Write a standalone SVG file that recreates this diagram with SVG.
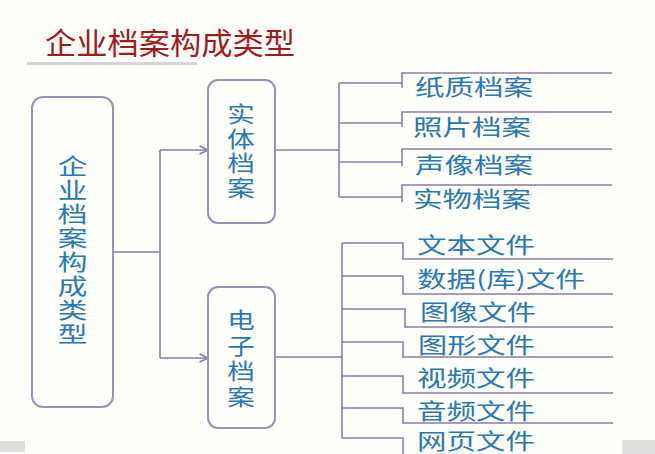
<svg xmlns="http://www.w3.org/2000/svg" width="655" height="454" viewBox="0 0 655 454">
<defs>
<style>
.bg{fill:#fefefb}
.box{fill:#fefefb;stroke:#9a90b8;stroke-width:2}
.ln{fill:none;stroke:#8a7cac;stroke-width:1.6}
.t{font-family:"Noto Sans CJK SC","Liberation Sans",sans-serif;fill:#2a78b4;dominant-baseline:central}
.lbl{font-size:22px}
.vt{font-family:"Noto Sans CJK SC","Liberation Sans",sans-serif;fill:#2a78b4;font-size:22px;writing-mode:vertical-rl;text-orientation:upright}
.title{font-family:"Noto Sans CJK SC","Liberation Sans",sans-serif;fill:#a31a1a;font-size:30px;dominant-baseline:central}
.gray{fill:#dedede}
</style>
<marker id="arr" viewBox="0 0 10 10" refX="9.5" refY="5" markerWidth="10" markerHeight="10" markerUnits="userSpaceOnUse" orient="auto">
<path d="M1,1 L9.5,5 L1,9" fill="none" stroke="#8a7cac" stroke-width="1.6"/>
</marker>
</defs>
<rect class="bg" x="0" y="0" width="655" height="454"/>
<g id="title">
<text class="title" x="45" y="41" textLength="250" lengthAdjust="spacingAndGlyphs">企业档案构成类型</text>
<rect x="27" y="62" width="170" height="3" fill="#d4d4d4"/>
</g>
<g id="connectors">
<path class="ln" d="M113,252 H160 M160,150 V358"/>
<path class="ln" d="M160,150 H208" marker-end="url(#arr)"/>
<path class="ln" d="M160,358 H208" marker-end="url(#arr)"/>
<path class="ln" d="M275,150 H339 M339,83 V197"/>
<path class="ln" d="M339,83 H402 M402,88 V73 H612"/>
<path class="ln" d="M339,123 H402 M402,127 V112 H612"/>
<path class="ln" d="M339,162 H402 M402,166 V149 H612"/>
<path class="ln" d="M339,197 H402 M402,202 V185 H612"/>
<path class="ln" d="M275,357 H342 M342,243 V438"/>
<path class="ln" d="M342,243 H403 V259 H613"/>
<path class="ln" d="M342,276 H403 V294 H613"/>
<path class="ln" d="M342,309 H405 V327 H613"/>
<path class="ln" d="M342,342 H403 V357 H613"/>
<path class="ln" d="M342,376 H403 V393 H613"/>
<path class="ln" d="M342,408 H403 V423 H613"/>
<path class="ln" d="M342,438 H403 V454"/>
</g>
<g id="root">
<rect class="box" x="32" y="97" width="81" height="310" rx="11"/>
<text class="vt" transform="translate(72.5,155) scale(1.35,1)" x="0" y="0" letter-spacing="2">企业档案构成类型</text>
</g>
<g id="physical">
<rect class="box" x="208" y="80" width="67" height="143" rx="10"/>
<text class="vt" transform="translate(241,103) scale(1.25,1)" x="0" y="0" letter-spacing="2.5">实体档案</text>
</g>
<g id="electronic">
<rect class="box" x="208" y="287" width="67" height="141" rx="10"/>
<text class="vt" transform="translate(241,309) scale(1.25,1)" x="0" y="0" letter-spacing="3.5">电子档案</text>
</g>
<g id="paper"><text class="t lbl" x="415" y="85" textLength="118" lengthAdjust="spacingAndGlyphs">纸质档案</text></g>
<g id="photo"><text class="t lbl" x="413" y="125" textLength="118" lengthAdjust="spacingAndGlyphs">照片档案</text></g>
<g id="audiovisual"><text class="t lbl" x="415" y="163" textLength="118" lengthAdjust="spacingAndGlyphs">声像档案</text></g>
<g id="object"><text class="t lbl" x="413" y="197" textLength="118" lengthAdjust="spacingAndGlyphs">实物档案</text></g>
<g id="textfile"><text class="t lbl" x="417" y="243" textLength="118" lengthAdjust="spacingAndGlyphs">文本文件</text></g>
<g id="datafile"><text class="t lbl" x="417" y="277" textLength="168" lengthAdjust="spacingAndGlyphs">数据(库)文件</text></g>
<g id="imagefile"><text class="t lbl" x="420" y="310" textLength="116" lengthAdjust="spacingAndGlyphs">图像文件</text></g>
<g id="graphicfile"><text class="t lbl" x="418" y="343" textLength="117" lengthAdjust="spacingAndGlyphs">图形文件</text></g>
<g id="videofile"><text class="t lbl" x="417" y="376" textLength="118" lengthAdjust="spacingAndGlyphs">视频文件</text></g>
<g id="audiofile"><text class="t lbl" x="417" y="409" textLength="118" lengthAdjust="spacingAndGlyphs">音频文件</text></g>
<g id="webfile"><text class="t lbl" x="417" y="439" textLength="118" lengthAdjust="spacingAndGlyphs">网页文件</text></g>
<rect class="gray" x="0" y="441" width="25" height="11"/>
<rect class="gray" x="622" y="440" width="33" height="14"/>
</svg>
